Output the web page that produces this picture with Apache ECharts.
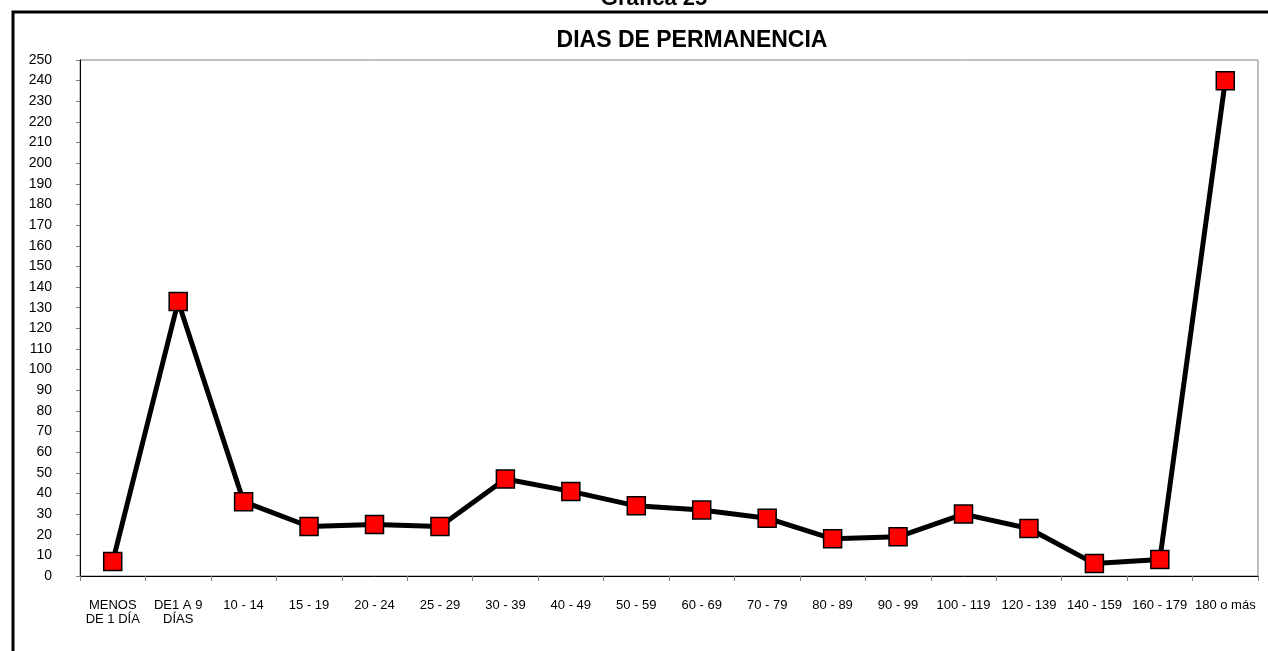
<!DOCTYPE html>
<html>
<head>
<meta charset="utf-8">
<script src="https://cdn.jsdelivr.net/npm/echarts@6/dist/echarts.min.js"></script>
<style>
  html, body { margin: 0; padding: 0; background: #fff; }
  #chart { width: 1268px; height: 651px; }
</style>
</head>
<body>
<div id="chart"></div>
<script>
// categorias del eje x
var categories = [
  'MENOS\nDE 1 DÍA', 'DE1 A 9\nDÍAS', '10 - 14', '15 - 19', '20 - 24', '25 - 29',
  '30 - 39', '40 - 49', '50 - 59', '60 - 69', '70 - 79', '80 - 89',
  '90 - 99', '100 - 119', '120 - 139', '140 - 159', '160 - 179', '180 o más'
];
// pacientes por rango de dias
var values = [7, 133, 36, 24, 25, 24, 47, 41, 34, 32, 28, 18, 19, 30, 23, 6, 8, 240];

var yMin = 0, yMax = 250, yStep = 10;

var chart = echarts.init(document.getElementById('chart'));

var option = {
  animation: false,
  backgroundColor: '#fff',
  textStyle: { fontFamily: 'Liberation Sans, Arial, sans-serif' },
  title: [
    {
      text: 'Gráfica 25',
      left: 649, top: -17, textAlign: 'center',
      textStyle: { fontSize: 22, fontWeight: 'bold', color: '#000' }
    },
    {
      text: 'DIAS DE PERMANENCIA',
      left: 687, top: 24, textAlign: 'center',
      textStyle: { fontSize: 23, fontWeight: 'bold', color: '#000' }
    }
  ],
  graphic: [
    {
      type: 'rect',
      shape: { x: 13, y: 12, width: 1300, height: 700 },
      style: { fill: 'none', stroke: '#000', lineWidth: 3 },
      silent: true
    }
  ],
  grid: {
    left: 80, top: 60, right: 10, bottom: 75,
    show: true, borderColor: '#808080', borderWidth: 1
  },
  xAxis: {
    type: 'category',
    data: categories,
    boundaryGap: true,
    axisLine: { lineStyle: { color: '#000', width: 1 } },
    axisTick: { show: true, length: 5, lineStyle: { color: '#808080' } },
    axisLabel: {
      color: '#000', fontSize: 13, margin: 22, interval: 0, lineHeight: 14
    },
    splitLine: { show: false }
  },
  yAxis: {
    type: 'value',
    min: yMin, max: yMax, interval: yStep,
    axisLine: { show: true, lineStyle: { color: '#000', width: 1 } },
    axisTick: { show: true, length: 4, lineStyle: { color: '#808080' } },
    axisLabel: { color: '#000', fontSize: 14, margin: 28 },
    splitLine: { show: false }
  },
  series: [
    {
      type: 'line',
      data: values,
      symbol: 'rect',
      symbolSize: 18,
      lineStyle: { color: '#000', width: 5 },
      itemStyle: { color: '#ff0000', borderColor: '#000', borderWidth: 1.5 },
      z: 3
    }
  ]
};

chart.setOption(option);
</script>
</body>
</html>
